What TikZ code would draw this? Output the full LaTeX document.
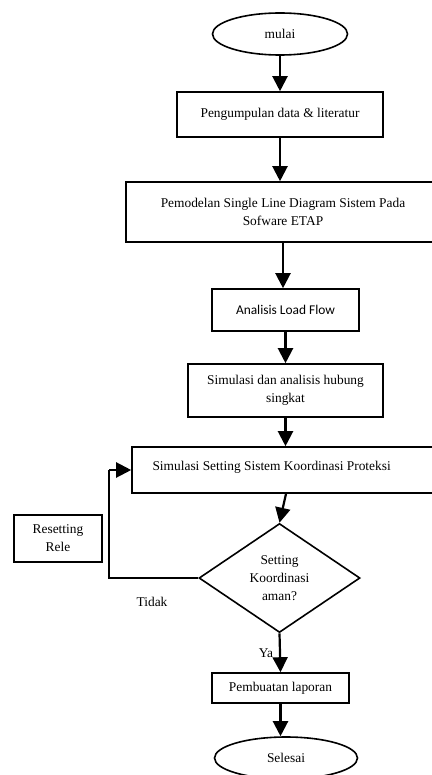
\documentclass[tikz,border=0pt]{standalone}
\usepackage{fontspec}
\setmainfont{Liberation Serif}
\newfontfamily\calibrifont{Carlito}
\usetikzlibrary{shapes.geometric,arrows.meta}
\begin{document}
\begin{tikzpicture}[x=1pt,y=-1pt,
  every node/.style={font=\fontsize{13.4}{18}\selectfont},
  box/.style={draw,line width=1.6pt,rectangle,inner sep=0pt,align=center},
  term/.style={draw,ellipse,line width=1.6pt,inner sep=0pt},
  arr/.style={line width=2.2pt,-{Triangle[width=15pt,length=15pt]}},
  ln/.style={line width=1.7pt},
  lbl/.style={inner sep=0pt}]
\useasboundingbox (0,0) rectangle (431,775);
\node[term,minimum width=135pt,minimum height=42pt] (start) at (280,34) {mulai};
\node[box,minimum width=206pt,minimum height=45pt] (b1) at (280,114.5) {Pengumpulan data \& literatur};
\node[box,minimum width=314pt,minimum height=60pt] (b2) at (283,212) {Pemodelan Single Line Diagram Sistem Pada\\Sofware ETAP};
\node[box,minimum width=147pt,minimum height=42pt,font=\calibrifont\fontsize{13.4}{18}\selectfont] (b3) at (285.5,310) {Analisis Load Flow};
\node[box,minimum width=195pt,minimum height=53pt] (b4) at (285.5,390.5) {Simulasi dan analisis hubung\\singkat};
\node[box,minimum width=308pt,minimum height=46pt] (b5) at (286,470) {};
\node[anchor=west] (b5t) at (149,467) {Simulasi Setting Sistem Koordinasi Proteksi};
\node[draw,diamond,line width=1.6pt,minimum width=161pt,minimum height=109pt,inner sep=0pt,align=center] (dec) at (279.5,578) {Setting\\Koordinasi\\aman?};
\node[box,minimum width=88pt,minimum height=47pt] (reset) at (58,538.5) {Resetting\\Rele};
\node[box,minimum width=137pt,minimum height=30pt] (b6) at (280.5,688) {Pembuatan laporan};
\node[term,minimum width=143pt,minimum height=42pt] (stop) at (286,758) {Selesai};
\node[lbl] (tidak) at (152,602) {Tidak};
\node[lbl] (ya) at (266,653) {Ya};
\coordinate (c1) at (109,578);
\coordinate (c2) at (109,470);
\draw[arr] (start.south) -- (b1.north);
\draw[arr] (b1.south) -- (b2.north -| b1.south);
\draw[arr] (b2.south) -- (b3.north -| b2.south);
\draw[arr] (b3.south) -- (b4.north);
\draw[arr] (b4.south) -- (b5.north -| b4.south);
\draw[arr] (b5.south) -- (dec.north);
\draw[arr] (dec.south) -- (b6.north);
\draw[arr] (b6.south) -- (stop.north -| b6.south);
\draw[ln] (dec.west) -- (c1) -- (c2);
\draw[arr] (c2) -- (b5.west);
\end{tikzpicture}
\end{document}
